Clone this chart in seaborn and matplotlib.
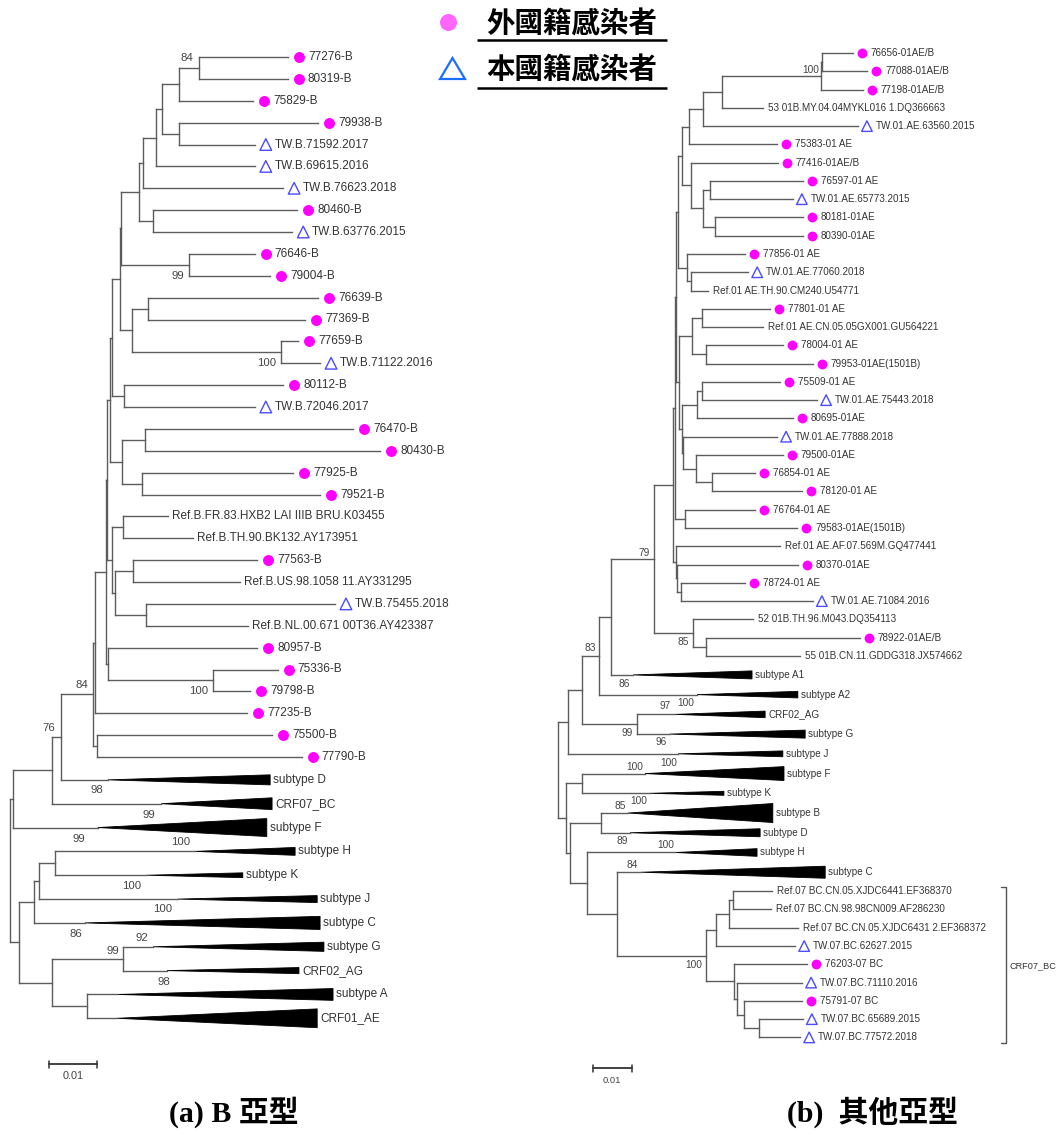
import matplotlib
matplotlib.use("Agg")
import matplotlib.pyplot as plt
from matplotlib.collections import LineCollection
from matplotlib.patches import Polygon
import seaborn as sns
import pandas as pd

sns.set_theme(style="white")
plt.rcParams["font.family"] = ["Liberation Sans", "Noto Sans CJK TC"]

FIG_W, FIG_H, DPI = 1062, 1130, 100

# ------------------------------------------------------------------
# Panel (a): subtype B tree. Depths are in 0.001 substitutions/site.
# kinds: F = foreign-national case, L = local case, R = reference, C = collapsed clade
# ------------------------------------------------------------------
a_leaves = [
    "77276-B", "80319-B", "75829-B", "79938-B", "TW.B.71592.2017", "TW.B.69615.2016",
    "TW.B.76623.2018", "80460-B", "TW.B.63776.2015", "76646-B", "79004-B", "76639-B",
    "77369-B", "77659-B", "TW.B.71122.2016", "80112-B", "TW.B.72046.2017", "76470-B",
    "80430-B", "77925-B", "79521-B", "Ref.B.FR.83.HXB2 LAI IIIB BRU.K03455",
    "Ref.B.TH.90.BK132.AY173951", "77563-B", "Ref.B.US.98.1058 11.AY331295",
    "TW.B.75455.2018", "Ref.B.NL.00.671 00T36.AY423387", "80957-B", "75336-B", "79798-B",
    "77235-B", "75500-B", "77790-B",
    "subtype D", "CRF07_BC", "subtype F", "subtype H", "subtype K", "subtype J",
    "subtype C", "subtype G", "CRF02_AG", "subtype A", "CRF01_AE",
]
a_kinds = list("FFFFLLLFLFFFFFLFLFFFFRRFRLRFFFFFF") + ["C"] * 11
a_depths = [
    57.9, 57.9, 50.6, 64.2, 51.0, 51.0, 56.9, 59.8, 58.8, 51.0, 54.2, 64.2,
    61.5, 60.0, 64.6, 56.9, 51.0, 71.5, 77.1, 59.0, 64.6, 32.9,
    38.1, 51.5, 47.9, 67.7, 49.6, 51.5, 55.8, 50.0,
    49.4, 54.6, 60.8,
    54.2, 54.6, 53.5, 59.4, 48.5, 64.0, 64.6, 65.4, 60.2, 67.3, 64.0,
]
a_clades = ["subtype D", "CRF07_BC", "subtype F", "subtype H", "subtype K", "subtype J",
            "subtype C", "subtype G", "CRF02_AG", "subtype A", "CRF01_AE"]
a_clade_apex = [20.4, 31.5, 18.3, 38.5, 28.5, 35.0, 15.6, 29.8, 32.7, 22.3, 22.3]
a_clade_spread = [0.23, 0.27, 0.41, 0.18, 0.11, 0.16, 0.30, 0.21, 0.14, 0.27, 0.43]

a_nodes = ["nA", "nB", "nD", "nC", "nE", "nF", "nH", "nG", "nJ", "nI", "nM", "nN", "nL",
           "nI2", "nO", "nK", "nR", "nS", "nQ", "nP", "nU", "nV", "nW", "nX", "nY", "nTa",
           "nZ", "nTb", "nTr", "nAC1", "nAB", "nAC2", "nAD", "nAE", "nAF", "nAJ", "nAI",
           "nAH", "nAL", "nAM", "nAK", "nAG", "rootA"]
a_kids = [
    ("77276-B", "80319-B"), ("nA", "75829-B"), ("79938-B", "TW.B.71592.2017"),
    ("nB", "nD"), ("nC", "TW.B.69615.2016"), ("nE", "TW.B.76623.2018"),
    ("80460-B", "TW.B.63776.2015"), ("nF", "nH"), ("76646-B", "79004-B"), ("nG", "nJ"),
    ("76639-B", "77369-B"), ("77659-B", "TW.B.71122.2016"), ("nM", "nN"), ("nI", "nL"),
    ("80112-B", "TW.B.72046.2017"), ("nI2", "nO"), ("76470-B", "80430-B"),
    ("77925-B", "79521-B"), ("nR", "nS"), ("nK", "nQ"),
    ("Ref.B.FR.83.HXB2 LAI IIIB BRU.K03455", "Ref.B.TH.90.BK132.AY173951"),
    ("77563-B", "Ref.B.US.98.1058 11.AY331295"),
    ("TW.B.75455.2018", "Ref.B.NL.00.671 00T36.AY423387"), ("nV", "nW"), ("nU", "nX"),
    ("nP", "nY"), ("75336-B", "79798-B"), ("80957-B", "nZ"), ("nTa", "nTb"),
    ("nTr", "77235-B"), ("75500-B", "77790-B"), ("nAC1", "nAB"), ("nAC2", "subtype D"),
    ("nAD", "CRF07_BC"), ("nAE", "subtype F"), ("subtype H", "subtype K"),
    ("nAJ", "subtype J"), ("nAI", "subtype C"), ("subtype G", "CRF02_AG"),
    ("subtype A", "CRF01_AE"), ("nAL", "nAM"), ("nAH", "nAK"), ("nAF", "nAG"),
]
a_node_depth = [39.4, 35.2, 35.2, 31.7, 30.4, 27.7, 29.8, 26.9, 37.3, 23.1, 28.8, 56.5, 25.4,
                22.9, 23.75, 21.25, 28.1, 27.5, 23.3, 20.8, 23.5, 25.6, 28.3, 21.9, 21.25, 20.2,
                42.3, 20.4, 20.1, 17.7, 18.1, 17.3, 10.6, 8.75, 0.6, 9.4, 6.0,
                5.0, 23.5, 16.0, 8.75, 1.9, 0.0]

# bootstrap support values and the node each belongs to
a_boot_vals = ["84", "99", "100", "100", "84", "76", "98", "99", "99", "100", "100", "100",
               "86", "92", "99", "98"]
a_boot_node = ["nA", "nJ", "nN", "nZ", "nAC2", "nAD", "subtype D", "CRF07_BC", "subtype F",
               "subtype H", "subtype K", "subtype J", "subtype C", "subtype G", "nAL", "CRF02_AG"]
# label offsets from the node (pixels, right / down)
a_boot_off = [(-12, -10), (-11, 11), (-15, 11), (-14, 11), (-11, -9), (-12, -9), (-11, 10),
              (-12, 11), (-19, 11), (-14, -9), (-15, 11), (-15, 10), (-9, 11), (-11, -9),
              (-10, -8), (-3, 11)]

# ------------------------------------------------------------------
# Panel (b): other subtypes
# ------------------------------------------------------------------
b_leaves = [
    "76656-01AE/B", "77088-01AE/B", "77198-01AE/B", "53 01B.MY.04.04MYKL016 1.DQ366663",
    "TW.01.AE.63560.2015", "75383-01 AE", "77416-01AE/B", "76597-01 AE",
    "TW.01.AE.65773.2015", "80181-01AE", "80390-01AE", "77856-01 AE",
    "TW.01.AE.77060.2018", "Ref.01 AE.TH.90.CM240.U54771", "77801-01 AE",
    "Ref.01 AE.CN.05.05GX001.GU564221", "78004-01 AE", "79953-01AE(1501B)", "75509-01 AE",
    "TW.01.AE.75443.2018", "80695-01AE", "TW.01.AE.77888.2018", "79500-01AE",
    "76854-01 AE", "78120-01 AE", "76764-01 AE", "79583-01AE(1501B)",
    "Ref.01 AE.AF.07.569M.GQ477441", "80370-01AE", "78724-01 AE", "TW.01.AE.71084.2016",
    "52 01B.TH.96.M043.DQ354113", "78922-01AE/B", "55 01B.CN.11.GDDG318.JX574662",
    "subtype A1", "subtype A2", "CRF02_AG", "subtype G", "subtype J", "subtype F",
    "subtype K", "subtype B", "subtype D", "subtype H", "subtype C",
    "Ref.07 BC.CN.05.XJDC6441.EF368370", "Ref.07 BC.CN.98.98CN009.AF286230",
    "Ref.07 BC.CN.05.XJDC6431 2.EF368372", "TW.07.BC.62627.2015", "76203-07 BC",
    "TW.07.BC.71110.2016", "75791-07 BC", "TW.07.BC.65689.2015", "TW.07.BC.77572.2018",
]
b_kinds = list("FFFRLFFFLFFFLRFRFFFLFLFFFFFRFFLRFR") + ["C"] * 11 + list("RRRLFLFLL")
b_depths = [
    76.6, 80.3, 79.2, 53.2, 77.9, 56.9, 57.1, 63.6, 61.0, 63.6, 63.6, 48.6,
    49.4, 39.0, 55.1, 53.2, 58.4, 66.2, 57.7, 67.3, 61.0, 56.9, 58.4,
    51.2, 63.4, 51.2, 62.1, 57.7, 62.3, 48.6, 66.2, 50.6, 78.4, 62.9,
    50.4, 62.3, 53.8, 64.2, 58.4, 58.7, 43.1, 55.8, 52.5, 51.7, 69.4,
    55.6, 55.3, 62.3, 61.6, 64.7, 63.4, 63.4, 63.6, 62.9,
]
b_clades = ["subtype A1", "subtype A2", "CRF02_AG", "subtype G", "subtype J", "subtype F",
            "subtype K", "subtype B", "subtype D", "subtype H", "subtype C"]
b_clade_apex = [19.5, 36.1, 30.4, 29.1, 31.2, 22.6, 23.9, 18.2, 18.7, 30.4, 21.6]
b_clade_spread = [0.22, 0.18, 0.18, 0.22, 0.16, 0.38, 0.11, 0.52, 0.22, 0.21, 0.33]

b_nodes = ["Ra", "Rb", "R2", "R3", "R4", "R8", "R9", "R7", "R10", "R5", "R13", "R12", "R11",
           "S1", "S2", "S3", "S4", "S5", "S6", "S7", "S8a", "S8b", "S10", "S9", "T1", "T2",
           "T3", "U1", "U2", "U3", "V3", "V2", "V1", "W1", "W2", "W4", "W3", "W5", "X2",
           "X3", "Y5", "Y4", "Y3", "Z1", "Z2", "Z3", "Z4", "Y2", "Y1", "X4", "X5", "X1",
           "rootB"]
b_kids = [
    ("76656-01AE/B", "77088-01AE/B"), ("Ra", "77198-01AE/B"),
    ("Rb", "53 01B.MY.04.04MYKL016 1.DQ366663"), ("R2", "TW.01.AE.63560.2015"),
    ("R3", "75383-01 AE"), ("76597-01 AE", "TW.01.AE.65773.2015"),
    ("80181-01AE", "80390-01AE"), ("R8", "R9"), ("77416-01AE/B", "R7"), ("R4", "R10"),
    ("TW.01.AE.77060.2018", "Ref.01 AE.TH.90.CM240.U54771"), ("77856-01 AE", "R13"),
    ("R5", "R12"), ("77801-01 AE", "Ref.01 AE.CN.05.05GX001.GU564221"),
    ("78004-01 AE", "79953-01AE(1501B)"), ("S1", "S2"),
    ("75509-01 AE", "TW.01.AE.75443.2018"), ("S4", "80695-01AE"),
    ("76854-01 AE", "78120-01 AE"), ("79500-01AE", "S6"), ("TW.01.AE.77888.2018", "S7"),
    ("S5", "S8a"), ("S3", "S8b"), ("76764-01 AE", "79583-01AE(1501B)"),
    ("78724-01 AE", "TW.01.AE.71084.2016"), ("80370-01AE", "T1"),
    ("Ref.01 AE.AF.07.569M.GQ477441", "T2"), ("R11", "S10"), ("U1", "S9"), ("U2", "T3"),
    ("78922-01AE/B", "55 01B.CN.11.GDDG318.JX574662"),
    ("52 01B.TH.96.M043.DQ354113", "V3"), ("U3", "V2"), ("V1", "subtype A1"),
    ("W1", "subtype A2"), ("CRF02_AG", "subtype G"), ("W2", "W4"), ("W3", "subtype J"),
    ("subtype F", "subtype K"), ("subtype B", "subtype D"),
    ("Ref.07 BC.CN.05.XJDC6441.EF368370", "Ref.07 BC.CN.98.98CN009.AF286230"),
    ("Y5", "Ref.07 BC.CN.05.XJDC6431 2.EF368372"), ("Y4", "TW.07.BC.62627.2015"),
    ("TW.07.BC.65689.2015", "TW.07.BC.77572.2018"), ("75791-07 BC", "Z1"),
    ("TW.07.BC.71110.2016", "Z2"), ("76203-07 BC", "Z3"), ("Y3", "Z4"),
    ("subtype C", "Y2"), ("subtype H", "Y1"), ("X3", "X4"), ("X2", "X5"), ("W5", "X1"),
]
b_node_depth = [68.7, 68.3, 42.6, 37.7, 34.0, 39.5, 40.8, 37.7, 34.5, 32.2, 34.5, 33.5, 31.2,
                37.4, 38.4, 34.8, 37.4, 36.1, 40.0, 35.8, 32.5, 32.2, 31.4, 33.0, 31.9, 30.9,
                30.6, 30.6, 30.4, 29.9, 38.4, 35.1, 24.9, 13.8, 10.6, 20.5, 6.2, 2.6, 6.2,
                11.2, 45.5, 44.4, 41.0, 52.2, 48.3, 46.5, 45.7, 38.4, 15.3, 7.5, 3.1, 2.1,
                0.0]

b_boot_vals = ["100", "79", "85", "83", "86", "97", "100", "99", "96", "100", "100", "85",
               "100", "89", "100", "84", "100"]
b_boot_node = ["Ra", "V1", "V2", "W2", "subtype A1", "CRF02_AG", "subtype A2", "W4",
               "subtype G", "subtype F", "subtype F", "subtype B", "subtype B", "subtype D",
               "subtype H", "subtype C", "Y2"]
b_boot_off = [(-12, 8), (-10, -6), (-10, 9), (-9, -8), (-9, 9), (-10, -8), (-11, 8),
              (-10, 9), (-9, 8), (-10, -7), (24, -11), (-8, -7), (11, -12), (-8, 8),
              (-9, -7), (-9, -7), (-12, 9)]

# bracketed group in panel (b)
b_bracket_label = "CRF07_BC"
b_bracket_span = ("Ref.07 BC.CN.05.XJDC6441.EF368370", "TW.07.BC.77572.2018")

legend_labels = ["外國籍感染者", "本國籍感染者"]
captions = ["(a) B 亞型", "(b)  其他亞型"]

# ------------------------------------------------------------------
# layout / styling
# ------------------------------------------------------------------
LINE_C = "#5c5c5c"
TEXT_C = "#333333"
FOREIGN_C = "#FF00FF"
LOCAL_C = "#4B4BFF"

GEOM = {
    "a": dict(px0=0, px1=530, root_px=10, ppu=4.8, row0=57, row_px=21.875, cw=1.09,
              fs=8.5, bfs=8.2, sfs=7.8, mk_dx=11, txt_dx=20, ref_dx=4, cl_dx=3,
              circ=62, tri=70, scale=(8.1, 1064)),
    "b": dict(px0=530, px1=1062, root_px=558, ppu=3.85, row0=53, row_px=18.27, cw=1.08,
              fs=7.1, bfs=7.3, sfs=6.8, mk_dx=9, txt_dx=18, ref_dx=5, cl_dx=3,
              circ=50, tri=58, scale=(9.1, 1068)),
}

fig = plt.figure(figsize=(FIG_W / DPI, FIG_H / DPI), dpi=DPI)
fig.patch.set_facecolor("white")


def draw_tree(g, leaves, kinds, depths, clades, apex, spread, nodes, kids, ndepth,
              boot_vals, boot_node, boot_off):
    ax = fig.add_axes([g["px0"] / FIG_W, 0, (g["px1"] - g["px0"]) / FIG_W, 1])
    ax.set_xlim((g["px0"] - g["root_px"]) / g["ppu"], (g["px1"] - g["root_px"]) / g["ppu"])
    ax.set_ylim((FIG_H - g["row0"]) / g["row_px"], -g["row0"] / g["row_px"])
    ax.axis("off")
    ppu = g["ppu"]

    # leaf rows; collapsed clades take slightly more room
    w = [g["cw"] if k == "C" else 1.0 for k in kinds]
    rows = [0.0]
    for i in range(1, len(leaves)):
        rows.append(rows[-1] + (w[i - 1] + w[i]) / 2)
    y = dict(zip(leaves, rows))
    x = dict(zip(leaves, depths))
    for n, a in zip(clades, apex):
        x[n] = a
    for n, kk, d in zip(nodes, kids, ndepth):
        x[n] = d
        y[n] = (y[kk[0]] + y[kk[1]]) / 2

    segs = []
    for n, kk in zip(nodes, kids):
        segs.append([(x[n], y[kk[0]]), (x[n], y[kk[1]])])
        for c in kk:
            segs.append([(x[n], y[c]), (x[c], y[c])])
    ax.add_collection(LineCollection(segs, colors=LINE_C, linewidths=1.0,
                                     capstyle="projecting"))

    # collapsed clades as filled wedges from their root to their longest tip
    tip_end = dict(zip(leaves, depths))
    for n, a, s in zip(clades, apex, spread):
        end = tip_end[n]
        ax.add_patch(Polygon([(a, y[n]), (end, y[n] - s), (end, y[n] + s)],
                             closed=True, facecolor="black", edgecolor="black", lw=0.6))

    df = pd.DataFrame({"name": leaves, "kind": kinds, "depth": depths,
                       "row": [y[n] for n in leaves]})
    df["mx"] = df["depth"] + g["mk_dx"] / ppu
    fo = df[df.kind == "F"]
    lo = df[df.kind == "L"]
    sns.scatterplot(data=fo, x="mx", y="row", ax=ax, color=FOREIGN_C, marker="o",
                    s=g["circ"], linewidth=0, legend=False, zorder=4)
    sns.scatterplot(data=lo, x="mx", y="row", ax=ax, marker="^", s=g["tri"],
                    color=LOCAL_C, legend=False, zorder=4)
    coll = ax.collections[-1]
    coll.set_facecolor("none")
    coll.set_edgecolor(LOCAL_C)
    coll.set_linewidth(1.0)
    ax.set_xlabel("")
    ax.set_ylabel("")

    for _, r in df.iterrows():
        if r.kind in ("F", "L"):
            dx = g["txt_dx"]
        elif r.kind == "R":
            dx = g["ref_dx"]
        else:
            dx = g["cl_dx"]
        ax.annotate(r["name"], xy=(r.depth, r.row), xytext=(dx, 0),
                    textcoords="offset pixels", ha="left", va="center",
                    fontsize=g["fs"], color=TEXT_C, annotation_clip=False)

    for v, n, (ox, oy) in zip(boot_vals, boot_node, boot_off):
        ax.annotate(v, xy=(x[n], y[n]), xytext=(ox, -oy), textcoords="offset pixels",
                    ha="center", va="center", fontsize=g["bfs"], color="#444444",
                    annotation_clip=False)

    # scale bar (0.01 substitutions/site = 10 units)
    sx, sy_px = g["scale"]
    sy = (sy_px - g["row0"]) / g["row_px"]
    cap = 3.5 / g["row_px"]
    ax.plot([sx, sx + 10], [sy, sy], color="#333333", lw=1.3)
    ax.plot([sx, sx], [sy - cap, sy + cap], color="#333333", lw=1.1)
    ax.plot([sx + 10, sx + 10], [sy - cap, sy + cap], color="#333333", lw=1.1)
    ax.annotate("0.01", xy=(sx + 5, sy), xytext=(0, -12), textcoords="offset pixels",
                ha="center", va="center", fontsize=g["sfs"], color="#444444")
    return ax, x, y


ax_a, xa, ya = draw_tree(GEOM["a"], a_leaves, a_kinds, a_depths, a_clades, a_clade_apex,
                         a_clade_spread, a_nodes, a_kids, a_node_depth,
                         a_boot_vals, a_boot_node, a_boot_off)
ax_b, xb, yb = draw_tree(GEOM["b"], b_leaves, b_kinds, b_depths, b_clades, b_clade_apex,
                         b_clade_spread, b_nodes, b_kids, b_node_depth,
                         b_boot_vals, b_boot_node, b_boot_off)

# bracket marking the CRF07_BC group in panel (b)
gb = GEOM["b"]
bx = (1006 - gb["root_px"]) / gb["ppu"]
btick = 5 / gb["ppu"]
y_top = yb[b_bracket_span[0]] - 0.22
y_bot = yb[b_bracket_span[1]] + 0.33
ax_b.plot([bx - btick, bx, bx, bx - btick], [y_top, y_top, y_bot, y_bot],
          color="#555555", lw=1.0)
ax_b.annotate(b_bracket_label, xy=(bx, (y_top + y_bot) / 2), xytext=(4, 0),
              textcoords="offset pixels", ha="left", va="center", fontsize=6.6,
              color=TEXT_C)

# legend and captions on a full-figure overlay in pixel units
ov = fig.add_axes([0, 0, 1, 1], zorder=10)
ov.set_xlim(0, FIG_W)
ov.set_ylim(FIG_H, 0)
ov.axis("off")
ov.patch.set_alpha(0)

ov.scatter([448], [22], s=150, color="#FF66FF", linewidths=0)
ov.add_patch(Polygon([(440, 79), (465, 79), (452.5, 58)], closed=True, facecolor="none",
                     edgecolor="#1A6EFF", lw=1.6))
for lab, yc, yu in zip(legend_labels, [24.5, 70.5], [39.5, 87.5]):
    ov.text(572, yc, lab, family=["Noto Sans CJK TC"], fontweight="bold", fontsize=20.5,
            ha="center", va="center", color="black")
    ov.plot([477, 667], [yu, yu], color="black", lw=1.8, solid_capstyle="butt")

for cap, xc in zip(captions, [233.5, 872.5]):
    ov.text(xc, 1112, cap, family=["Liberation Serif", "Noto Sans CJK TC"],
            fontweight="bold", fontsize=21.5, ha="center", va="center", color="black")

fig.savefig("out.png", dpi=DPI, facecolor="white")
